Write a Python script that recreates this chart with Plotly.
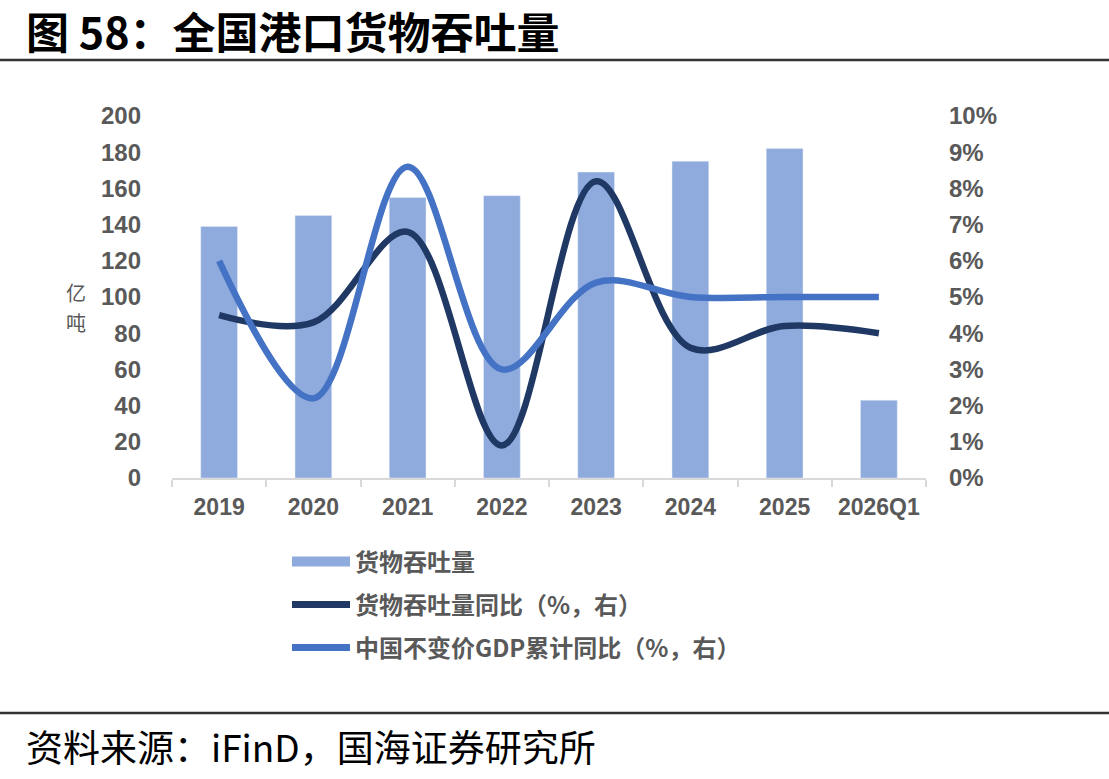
import plotly.graph_objects as go

years = ["2019", "2020", "2021", "2022", "2023", "2024", "2025", "2026Q1"]
throughput = [139, 145, 155, 156, 169, 175, 182, 43]
throughput_yoy = [4.5, 4.3, 6.8, 0.9, 8.2, 3.6, 4.2, 4.0]
gdp_yoy = [6.0, 2.2, 8.6, 3.0, 5.4, 5.0, 5.0, 5.0]

name_bar = "货物吞吐量"
name_yoy = "货物吞吐量同比（%，右）"
name_gdp = "中国不变价GDP累计同比（%，右）"

W, H = 1109, 779
L, R, T, B = 172, 926, 116, 478
PW, PH = R - L, B - T


def px(x):
    return (x - L) / PW


def py(y):
    return (B - y) / PH


BAR_C = "#8FAADC"
DARK_C = "#1F3864"
LIGHT_C = "#4472C4"
GREY = "#595959"
NUM_FONT = "Arial, Liberation Sans, sans-serif"
CJK_FONT = "Noto Sans CJK SC, sans-serif"

fig = go.Figure()
fig.add_trace(go.Bar(x=years, y=throughput, name=name_bar, marker_color=BAR_C,
                     width=0.39, showlegend=False, yaxis="y"))
fig.add_trace(go.Scatter(x=years, y=throughput_yoy, name=name_yoy, mode="lines",
                         line=dict(color=DARK_C, width=6.5, shape="spline", smoothing=1.0),
                         yaxis="y2", showlegend=False))
fig.add_trace(go.Scatter(x=years, y=gdp_yoy, name=name_gdp, mode="lines",
                         line=dict(color=LIGHT_C, width=6.5, shape="spline", smoothing=1.0),
                         yaxis="y2", showlegend=False))

# legend entries (one legend box per entry for exact placement)
legend_specs = [(name_bar, BAR_C, 10, "legend", 562),
                (name_yoy, DARK_C, 7, "legend2", 605),
                (name_gdp, LIGHT_C, 7, "legend3", 648)]
for nm, col, w, lg, yy in legend_specs:
    fig.add_trace(go.Scatter(x=[None], y=[None], name=nm, mode="lines",
                             line=dict(color=col, width=w), legend=lg, yaxis="y2"))

legend_common = dict(xanchor="left", yanchor="middle", bgcolor="rgba(0,0,0,0)",
                     font=dict(family=CJK_FONT, size=24, color=GREY, weight="bold"),
                     itemwidth=58, borderwidth=0)
layout_legends = {}
for nm, col, w, lg, yy in legend_specs:
    layout_legends[lg] = dict(x=px(287), y=py(yy), **legend_common)

fig.update_layout(
    width=W, height=H,
    margin=dict(l=L, r=W - R, t=T, b=H - B, autoexpand=False),
    paper_bgcolor="white", plot_bgcolor="white",
    bargap=0.61,
    xaxis=dict(type="category", showgrid=False, showline=True, linecolor="#D9D9D9",
               linewidth=1.5, ticks="outside", tickson="boundaries", ticklen=7,
               tickcolor="#D9D9D9", tickwidth=1.5, tickangle=0,
               tickfont=dict(family=NUM_FONT, size=23, color=GREY, weight="bold"),
               ticklabelstandoff=8),
    yaxis=dict(range=[0, 200], dtick=20, showgrid=False, showline=False, zeroline=False,
               tickfont=dict(family=NUM_FONT, size=24, color=GREY, weight="bold"),
               ticklabelstandoff=30),
    yaxis2=dict(range=[0, 10], dtick=1, overlaying="y", side="right", showgrid=False,
                showline=False, zeroline=False, ticksuffix="%",
                tickfont=dict(family=NUM_FONT, size=24, color=GREY, weight="bold"),
                ticklabelstandoff=22),
    **layout_legends,
)

annotations = [
    dict(text="<b>图 58：全国港口货物吞吐量</b>", x=px(24), y=py(30), xanchor="left",
         yanchor="middle", font=dict(family=CJK_FONT, size=43, color="black")),
    dict(text="资料来源：iFinD，国海证券研究所", x=px(24), y=py(746), xanchor="left",
         yanchor="middle", font=dict(family=CJK_FONT, size=37, color="black")),
    dict(text="亿", x=px(76), y=py(292), xanchor="center", yanchor="middle",
         font=dict(family=CJK_FONT, size=20, color=GREY)),
    dict(text="吨", x=px(76), y=py(322), xanchor="center", yanchor="middle",
         font=dict(family=CJK_FONT, size=20, color=GREY)),
]
for a in annotations:
    a.update(xref="paper", yref="paper", showarrow=False)
fig.update_layout(annotations=annotations)

fig.add_shape(type="line", xref="paper", yref="paper", x0=px(0), x1=px(W),
              y0=py(60), y1=py(60), line=dict(color="#333333", width=2.5))
fig.add_shape(type="line", xref="paper", yref="paper", x0=px(0), x1=px(W),
              y0=py(713), y1=py(713), line=dict(color="#333333", width=2.5))

fig.write_html("out.html")
